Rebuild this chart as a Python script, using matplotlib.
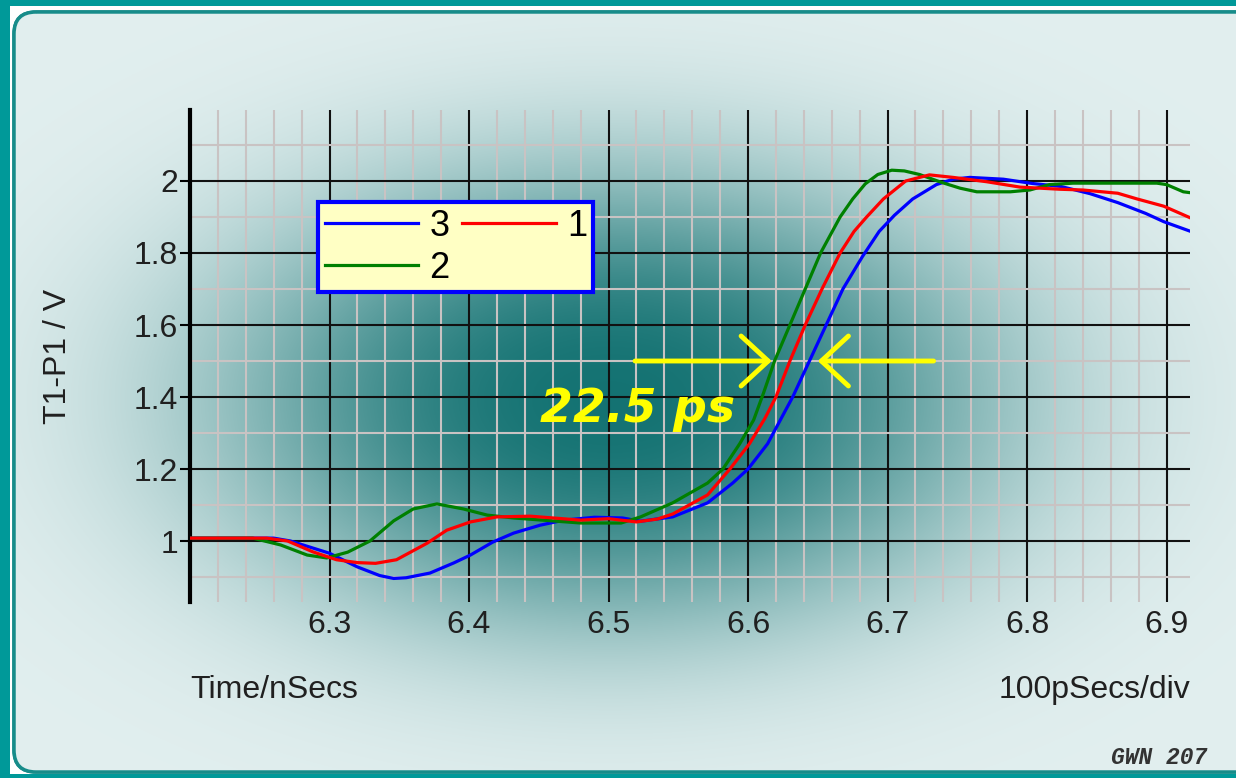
import numpy as np
import matplotlib.pyplot as plt
from matplotlib.patches import FancyBboxPatch, Rectangle
from matplotlib.ticker import MultipleLocator, FormatStrFormatter

plt.rcParams['font.family'] = ['Liberation Sans', 'DejaVu Sans']

# probe T1-P1, three traces (time in ns, voltage in V)
t3 = [6.200, 6.260, 6.272, 6.300, 6.320, 6.336, 6.346, 6.355, 6.372, 6.389, 6.401, 6.417,
      6.432, 6.451, 6.468, 6.490, 6.510, 6.523, 6.546, 6.571, 6.589, 6.600, 6.614, 6.623,
      6.632, 6.644, 6.656, 6.668, 6.682, 6.694, 6.705, 6.718, 6.735, 6.747, 6.759, 6.783,
      6.804, 6.824, 6.845, 6.865, 6.885, 6.898, 6.918]
v3 = [1.008, 1.008, 1.000, 0.966, 0.928, 0.904, 0.896, 0.898, 0.911, 0.939, 0.961, 0.997,
      1.022, 1.044, 1.058, 1.066, 1.064, 1.055, 1.067, 1.106, 1.161, 1.200, 1.270, 1.335,
      1.400, 1.500, 1.600, 1.700, 1.790, 1.860, 1.905, 1.950, 1.990, 2.005, 2.010, 2.005,
      1.993, 1.985, 1.965, 1.940, 1.910, 1.887, 1.859]

t1 = [6.200, 6.255, 6.270, 6.288, 6.305, 6.320, 6.333, 6.348, 6.370, 6.384, 6.401, 6.420,
      6.444, 6.480, 6.500, 6.520, 6.535, 6.546, 6.571, 6.587, 6.601, 6.612, 6.620, 6.630,
      6.641, 6.653, 6.666, 6.676, 6.685, 6.697, 6.713, 6.730, 6.747, 6.771, 6.795, 6.824,
      6.840, 6.865, 6.879, 6.898, 6.918]
v1 = [1.008, 1.008, 1.000, 0.970, 0.948, 0.940, 0.938, 0.948, 0.994, 1.030, 1.053, 1.067,
      1.069, 1.058, 1.062, 1.053, 1.061, 1.075, 1.128, 1.200, 1.270, 1.340, 1.400, 1.500,
      1.600, 1.700, 1.800, 1.860, 1.900, 1.950, 2.000, 2.017, 2.010, 1.998, 1.983, 1.977,
      1.975, 1.966, 1.950, 1.930, 1.896]

t2 = [6.200, 6.245, 6.265, 6.284, 6.298, 6.313, 6.329, 6.346, 6.360, 6.377, 6.396, 6.413,
      6.432, 6.480, 6.509, 6.523, 6.546, 6.571, 6.582, 6.594, 6.604, 6.611, 6.619, 6.630,
      6.641, 6.652, 6.666, 6.675, 6.684, 6.693, 6.703, 6.712, 6.723, 6.738, 6.752, 6.764,
      6.788, 6.802, 6.816, 6.833, 6.893, 6.900, 6.912, 6.918]
v2 = [1.008, 1.008, 0.989, 0.961, 0.953, 0.969, 1.000, 1.056, 1.089, 1.103, 1.089, 1.072,
      1.064, 1.050, 1.050, 1.067, 1.106, 1.161, 1.200, 1.270, 1.336, 1.410, 1.500, 1.600,
      1.700, 1.800, 1.900, 1.950, 1.992, 2.018, 2.030, 2.028, 2.018, 1.997, 1.980, 1.970,
      1.970, 1.975, 1.990, 1.994, 1.994, 1.990, 1.970, 1.967]

trace_names = ['3', '2', '1']
x_major = [6.3, 6.4, 6.5, 6.6, 6.7, 6.8, 6.9]
y_major = [1.0, 1.2, 1.4, 1.6, 1.8, 2.0]

# skew marker at the 1.5 V crossing
v_meas = 1.5
skew_text = '22.5 ps'
arrow_left = (6.519, 6.617)   # tail, tip
arrow_right = (6.733, 6.650)

W, H = 1236, 778
fig = plt.figure(figsize=(W / 100, H / 100), dpi=100, facecolor='#009999')

# background panel with a dark teal glow behind the plot
bg = fig.add_axes([0, 0, 1, 1])
bg.set_xlim(0, W)
bg.set_ylim(H, 0)
bg.axis('off')
bg.add_patch(Rectangle((10, 6), W, H - 10, facecolor='white', edgecolor='none'))
panel = FancyBboxPatch((14, 12), W + 10, 760, boxstyle='round,pad=0,rounding_size=22',
                       facecolor='#e2efef', edgecolor='#178c8a', linewidth=2.5)
bg.add_patch(panel)

gx, gy = np.meshgrid(np.linspace(0, W, 412), np.linspace(0, H, 260))
r2 = ((gx - 610) / 390) ** 2 + ((gy - 400) / 228) ** 2
glow = np.exp(-r2 ** 1.25)
light = np.array([0.886, 0.937, 0.937])
dark = np.array([0.08, 0.45, 0.45])
rgb = light[None, None, :] * (1 - glow[..., None]) + dark[None, None, :] * glow[..., None]
img = bg.imshow(rgb, extent=(0, W, H, 0), aspect='auto', interpolation='bilinear', zorder=1)
img.set_clip_path(panel)
bg.add_patch(FancyBboxPatch((14, 12), W + 10, 760, boxstyle='round,pad=0,rounding_size=22',
                            facecolor='none', edgecolor='#178c8a', linewidth=2.5, zorder=2))

ax = fig.add_axes([190 / W, 1 - 602 / H, 1000 / W, 492 / H])
ax.set_facecolor('none')
ax.set_xlim(6.2, 6.9168)
ax.set_ylim(0.8306, 2.1972)

ax.xaxis.set_major_locator(plt.FixedLocator(x_major))
ax.xaxis.set_minor_locator(MultipleLocator(0.02))
ax.yaxis.set_major_locator(plt.FixedLocator(y_major))
ax.yaxis.set_minor_locator(MultipleLocator(0.1))
ax.xaxis.set_major_formatter(FormatStrFormatter('%g'))
ax.yaxis.set_major_formatter(FormatStrFormatter('%g'))

ax.grid(which='minor', color='#c9c3c3', linewidth=1.5)
ax.grid(which='major', color='#111111', linewidth=1.5)
ax.set_axisbelow(True)
for s in ['top', 'right', 'bottom']:
    ax.spines[s].set_visible(False)
ax.spines['left'].set_linewidth(3)
ax.spines['left'].set_zorder(3)

ax.tick_params(axis='x', which='both', length=0, pad=6, labelsize=23, labelcolor='#202020')
ax.tick_params(axis='y', which='major', length=7.5, width=1.5, pad=1, labelsize=23,
               labelcolor='#202020')
ax.tick_params(axis='y', which='minor', length=0)

l3, = ax.plot(t3, v3, color='#0000ff', linewidth=2.3, zorder=4, solid_joinstyle='round')
l2, = ax.plot(t2, v2, color='#008000', linewidth=2.3, zorder=4, solid_joinstyle='round')
l1, = ax.plot(t1, v1, color='#ff0000', linewidth=2.3, zorder=4, solid_joinstyle='round')

leg = ax.legend([l3, l2, l1], trace_names, ncol=2, loc='upper left',
                bbox_to_anchor=(0.128, 0.813), borderaxespad=0, fontsize=26,
                fancybox=False, framealpha=1, facecolor='#ffffc4', edgecolor='#0000ff',
                handlelength=2.6, handletextpad=0.3, columnspacing=0.35,
                labelspacing=0.2, borderpad=0.18)
leg.get_frame().set_linewidth(3)
leg.set_zorder(5)

ax.set_ylabel('T1-P1 / V', fontsize=23, color='#202020')
ax.yaxis.set_label_coords(-0.117, 0.5)
ax.text(0, -0.179, 'Time/nSecs', transform=ax.transAxes, fontsize=23,
        color='#202020', ha='left', va='center')
ax.text(1, -0.179, '100pSecs/div', transform=ax.transAxes, fontsize=23,
        color='#202020', ha='right', va='center')

arrow_style = dict(arrowstyle='->,head_length=0.65,head_width=0.6', color='#ffff00',
                   linewidth=3.5, mutation_scale=30, shrinkA=0, shrinkB=0)
ax.annotate('', xy=(arrow_left[1], v_meas), xytext=(arrow_left[0], v_meas),
            arrowprops=arrow_style, zorder=6)
ax.annotate('', xy=(arrow_right[1], v_meas), xytext=(arrow_right[0], v_meas),
            arrowprops=arrow_style, zorder=6)
ax.text(6.451, 1.364, skew_text, family='DejaVu Sans', fontsize=34, color='#ffff00',
        fontweight='bold', fontstyle='oblique', ha='left', va='center', zorder=6)

fig.text(1207 / W, 1 - 757 / H, 'GWN 207', family='Liberation Mono', fontsize=16.5,
         fontweight='bold', fontstyle='italic', color='#333333', ha='right', va='center')

fig.savefig('out.png', dpi=100, facecolor=fig.get_facecolor())
